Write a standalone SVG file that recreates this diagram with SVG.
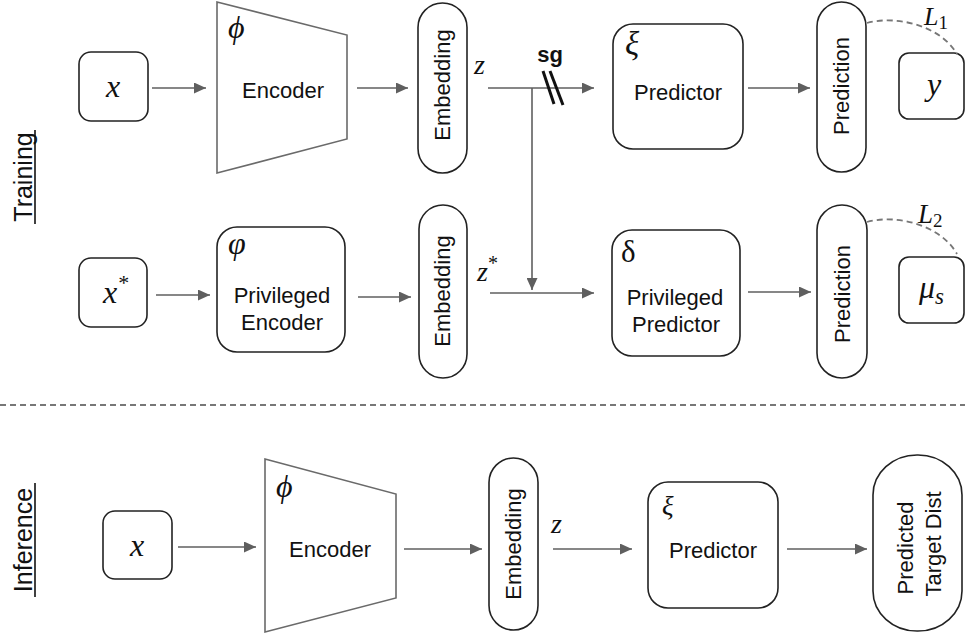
<svg xmlns="http://www.w3.org/2000/svg" width="965" height="635" viewBox="0 0 965 635">
<style>
.box{fill:#fff;stroke:#222;stroke-width:1.6}
.trap{fill:#fff;stroke:#6a6a6a;stroke-width:1.6}
.conn{stroke:#5f5f5f;stroke-width:1.6;fill:none}
.dash{stroke:#777;stroke-width:1.8;fill:none;stroke-dasharray:6 4}
.lbl{font-family:"Liberation Sans",Arial,sans-serif;font-size:22px;fill:#111;text-anchor:middle}
.sec{font-family:"Liberation Sans",Arial,sans-serif;font-size:25px;fill:#111;text-anchor:middle}
.math{font-family:"Liberation Serif","Times New Roman",serif;font-style:italic;fill:#111}
.greek{font-family:"Liberation Serif","Times New Roman",serif;fill:#111}
</style>
<defs>
<marker id="ah" markerWidth="12" markerHeight="11" refX="12" refY="5.5" orient="auto" markerUnits="userSpaceOnUse">
<path d="M0,0 L12,5.5 L0,11 Z" fill="#5f5f5f"/>
</marker>
</defs>
<rect width="965" height="635" fill="#fff"/>

<!-- section labels -->
<g id="training-label">
<text class="sec" transform="translate(32,177) rotate(-90)">Training</text>
<line x1="35" y1="130" x2="35" y2="224" stroke="#111" stroke-width="1.6"/>
</g>
<g id="inference-label">
<text class="sec" transform="translate(32,540) rotate(-90)">Inference</text>
<line x1="35" y1="483" x2="35" y2="597" stroke="#111" stroke-width="1.6"/>
</g>
<line id="separator" x1="0" y1="405" x2="965" y2="405" class="dash" stroke-width="1.4"/>

<!-- Training row 1 -->
<g id="x-train">
<rect class="box" x="79" y="52" width="69" height="69" rx="12"/>
<text class="math" x="113" y="97" font-size="32" text-anchor="middle">x</text>
</g>
<g id="encoder-train">
<polygon class="trap" points="217,2 347,35 347,139 217,173"/>
<text class="greek" x="228" y="38" font-size="32" font-style="italic">ϕ</text>
<text class="lbl" x="283" y="98">Encoder</text>
</g>
<g id="embedding-1">
<rect class="box" x="418" y="3" width="49" height="170" rx="24.5"/>
<text class="lbl" transform="translate(450,85) rotate(-90)">Embedding</text>
</g>
<g id="predictor-train">
<rect class="box" x="613" y="24" width="130" height="125" rx="20"/>
<text class="greek" x="625" y="55" font-size="33" font-style="italic">ξ</text>
<text class="lbl" x="678" y="100">Predictor</text>
</g>
<g id="prediction-1">
<rect class="box" x="817" y="2" width="49" height="170" rx="24.5"/>
<text class="lbl" transform="translate(849,86) rotate(-90)">Prediction</text>
</g>
<g id="y-box">
<rect class="box" x="899" y="53" width="65" height="66" rx="10"/>
<text class="math" x="934" y="95" font-size="32" text-anchor="middle">y</text>
</g>

<!-- Training row 2 -->
<g id="xstar">
<rect class="box" x="79" y="258" width="68" height="69" rx="12"/>
<text class="math" x="103" y="303" font-size="32">x<tspan font-size="22" font-style="normal" dx="1" dy="-13">*</tspan></text>
</g>
<g id="privileged-encoder">
<rect class="box" x="217" y="227" width="128" height="125" rx="20"/>
<text class="greek" x="228" y="254" font-size="32" font-style="italic">φ</text>
<text class="lbl" x="282" y="303">Privileged</text>
<text class="lbl" x="282" y="330">Encoder</text>
</g>
<g id="embedding-2">
<rect class="box" x="419" y="205" width="48" height="173" rx="24"/>
<text class="lbl" transform="translate(450,291) rotate(-90)">Embedding</text>
</g>
<g id="privileged-predictor">
<rect class="box" x="612" y="230" width="128" height="126" rx="20"/>
<text class="greek" x="621" y="262" font-size="31">δ</text>
<text class="lbl" x="675" y="305">Privileged</text>
<text class="lbl" x="676" y="332">Predictor</text>
</g>
<g id="prediction-2">
<rect class="box" x="817" y="205" width="50" height="173" rx="25"/>
<text class="lbl" transform="translate(850,294) rotate(-90)">Prediction</text>
</g>
<g id="mu-box">
<rect class="box" x="899" y="257" width="65" height="66" rx="10"/>
<text class="math" x="919" y="298" font-size="32">μ<tspan font-size="23" dy="6">s</tspan></text>
</g>

<!-- Inference row -->
<g id="x-inf">
<rect class="box" x="103" y="511" width="69" height="68" rx="12"/>
<text class="math" x="137" y="556" font-size="32" text-anchor="middle">x</text>
</g>
<g id="encoder-inf">
<polygon class="trap" points="265,459 396,494 396,598 265,632"/>
<text class="greek" x="276" y="497" font-size="32" font-style="italic">ϕ</text>
<text class="lbl" x="330" y="557">Encoder</text>
</g>
<g id="embedding-3">
<rect class="box" x="489" y="458" width="49" height="172" rx="24.5"/>
<text class="lbl" transform="translate(521,544) rotate(-90)">Embedding</text>
</g>
<g id="predictor-inf">
<rect class="box" x="648" y="482" width="130" height="126" rx="20"/>
<text class="greek" x="662" y="515" font-size="27" font-style="italic">ξ</text>
<text class="lbl" x="713" y="558">Predictor</text>
</g>
<g id="predicted-target">
<rect class="box" x="873" y="455" width="89" height="176" rx="44" ry="40"/>
<text class="lbl" transform="translate(913,548) rotate(-90)">Predicted</text>
<text class="lbl" transform="translate(941,544) rotate(-90)">Target Dist</text>
</g>

<!-- connectors -->
<g id="connectors">
<line class="conn" x1="152" y1="88" x2="206" y2="88" marker-end="url(#ah)"/>
<line class="conn" x1="357" y1="88" x2="408" y2="88" marker-end="url(#ah)"/>
<line class="conn" x1="488" y1="88" x2="594" y2="88" marker-end="url(#ah)"/>
<line class="conn" x1="532" y1="88" x2="532" y2="290" marker-end="url(#ah)"/>
<line class="conn" x1="490" y1="293" x2="594" y2="293" marker-end="url(#ah)"/>
<line class="conn" x1="156" y1="295" x2="210" y2="295" marker-end="url(#ah)"/>
<line class="conn" x1="358" y1="297" x2="411" y2="297" marker-end="url(#ah)"/>
<line class="conn" x1="748" y1="88" x2="810" y2="88" marker-end="url(#ah)"/>
<line class="conn" x1="748" y1="292" x2="811" y2="292" marker-end="url(#ah)"/>
<line class="conn" x1="178" y1="547" x2="256" y2="547" marker-end="url(#ah)"/>
<line class="conn" x1="404" y1="549" x2="482" y2="549" marker-end="url(#ah)"/>
<line class="conn" x1="553" y1="549" x2="632" y2="549" marker-end="url(#ah)"/>
<line class="conn" x1="787" y1="549" x2="867" y2="549" marker-end="url(#ah)"/>
<path class="dash" d="M867,23 C895,15 940,25 957,54"/>
<path class="dash" d="M867,222 C895,214 940,224 957,254"/>
<line x1="543" y1="71" x2="554" y2="104" stroke="#111" stroke-width="3"/>
<line x1="550" y1="71" x2="563" y2="105" stroke="#111" stroke-width="3"/>
</g>

<!-- connector labels -->
<g id="labels">
<text class="math" x="474" y="74" font-size="28">z</text>
<text class="math" x="477" y="281" font-size="28">z<tspan font-size="20" font-style="normal" dy="-11">*</tspan></text>
<text class="math" x="551" y="533" font-size="28">z</text>
<text x="550" y="62" font-family="Liberation Sans,Arial,sans-serif" font-size="22" font-weight="bold" fill="#111" text-anchor="middle">sg</text>
<text class="math" x="924" y="25" font-size="26">L<tspan font-style="normal" font-size="19" dy="4">1</tspan></text>
<text class="math" x="918" y="223" font-size="27">L<tspan font-style="normal" font-size="19" dy="4">2</tspan></text>
</g>
</svg>
